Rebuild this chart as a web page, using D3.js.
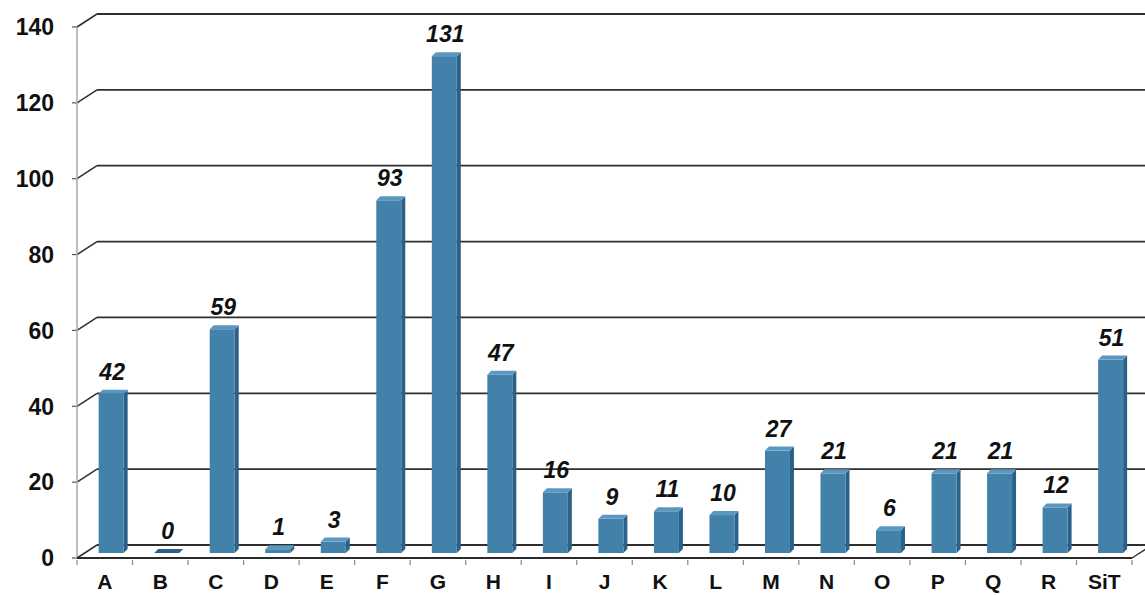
<!DOCTYPE html>
<html>
<head>
<meta charset="utf-8">
<script src="https://cdn.jsdelivr.net/npm/d3@7"></script>
<style>
  body { margin: 0; background: #fff; }
  svg { display: block; }
</style>
</head>
<body>
<div id="chart"></div>
<script>
// Counts per category, 3D column style
var categories = ["A", "B", "C", "D", "E", "F", "G", "H", "I", "J", "K", "L", "M", "N", "O", "P", "Q", "R", "SiT"];
var counts = [42, 0, 59, 1, 3, 93, 131, 47, 16, 9, 11, 10, 27, 21, 6, 21, 21, 12, 51];
var yTicks = [0, 20, 40, 60, 80, 100, 120, 140];

var width = 1145,
    height = 595,
    depthX = 20,   // shift from front plane to back wall
    depthY = -13;

var svg = d3.select("#chart")
    .append("svg")
    .attr("width", width)
    .attr("height", height);

var x = d3.scaleBand()
    .domain(categories)
    .range([77, 1132])
    .paddingInner(0)
    .paddingOuter(0);

// front plane value scale
var y = d3.scaleLinear()
    .domain([0, 140])
    .range([558, 27]);

// back wall gridlines with the little diagonal back to the front axis
yTicks.forEach(function(t) {
    var yf = y(t);
    svg.append("line")
        .attr("x1", x.range()[0] + depthX)
        .attr("x2", width)
        .attr("y1", yf + depthY)
        .attr("y2", yf + depthY)
        .style("stroke", "#2e2e2e")
        .style("stroke-width", 1.8);
    svg.append("line")
        .attr("x1", x.range()[0])
        .attr("y1", yf)
        .attr("x2", x.range()[0] + depthX)
        .attr("y2", yf + depthY)
        .style("stroke", "#2e2e2e")
        .style("stroke-width", 1.5);
    // tick and label
    svg.append("line")
        .attr("x1", x.range()[0] - 5)
        .attr("x2", x.range()[0])
        .attr("y1", yf)
        .attr("y2", yf)
        .style("stroke", "#555")
        .style("stroke-width", 1.2);
    svg.append("text")
        .attr("x", 54)
        .attr("y", yf)
        .attr("dy", "0.36em")
        .text(t)
        .style("text-anchor", "end")
        .style("fill", "#111")
        .style("font", "bold 23px 'Liberation Sans', Arial, sans-serif");
});

// front vertical axis
svg.append("line")
    .attr("x1", x.range()[0])
    .attr("x2", x.range()[0])
    .attr("y1", y(140))
    .attr("y2", y(0))
    .style("stroke", "#a8a8a8")
    .style("stroke-width", 1.5);

// floor front edge and right diagonal
svg.append("line")
    .attr("x1", x.range()[0])
    .attr("x2", x.range()[1])
    .attr("y1", y(0))
    .attr("y2", y(0))
    .style("stroke", "#2a2a2a")
    .style("stroke-width", 2.2);
svg.append("line")
    .attr("x1", x.range()[1])
    .attr("y1", y(0))
    .attr("x2", x.range()[1] + depthX)
    .attr("y2", y(0) + depthY)
    .style("stroke", "#333")
    .style("stroke-width", 1.4);

// category ticks under the floor
var tickXs = categories.map(function(c) { return x(c); }).concat([x.range()[1]]);
tickXs.forEach(function(tx) {
    svg.append("line")
        .attr("x1", tx)
        .attr("x2", tx)
        .attr("y1", y(0) + 2)
        .attr("y2", y(0) + 7)
        .style("stroke", "#888")
        .style("stroke-width", 1.2);
});

// bars
var bw = x.bandwidth(),
    faceL = 0.39 * bw,
    faceR = 0.84 * bw,
    side = 4,
    lift = 5;   // bars sit half way into the floor

categories.forEach(function(c, i) {
    var v = counts[i];
    var x0 = x(c) + faceL,
        x1 = x(c) + faceR,
        yb = y(0) - lift,
        yt = y(v) - lift;

    var bar = svg.append("g");
    // side face
    bar.append("polygon")
        .attr("points", [[x1, yt], [x1 + side, yt - side], [x1 + side, yb - side], [x1, yb]].join(" "))
        .attr("fill", "#2b6088");
    // front face
    bar.append("rect")
        .attr("x", x0)
        .attr("y", yt)
        .attr("width", x1 - x0)
        .attr("height", yb - yt)
        .attr("fill", "#4282aa");
    // top face
    bar.append("polygon")
        .attr("points", [[x0, yt], [x0 + side, yt - side], [x1 + side, yt - side], [x1, yt]].join(" "))
        .attr("fill", v === 0 ? "#2f5f86" : "#5b98bf");

    // value label
    bar.append("text")
        .attr("x", (x0 + x1) / 2 + 1)
        .attr("y", yt - 14)
        .text(v)
        .style("text-anchor", "middle")
        .style("fill", "#111")
        .style("font", "italic bold 23px 'Liberation Sans', Arial, sans-serif");

    // category label
    svg.append("text")
        .attr("x", x(c) + bw / 2)
        .attr("y", 589)
        .text(c)
        .style("text-anchor", "middle")
        .style("fill", "#111")
        .style("font", "bold 21px 'Liberation Sans', Arial, sans-serif");
});
</script>
</body>
</html>
